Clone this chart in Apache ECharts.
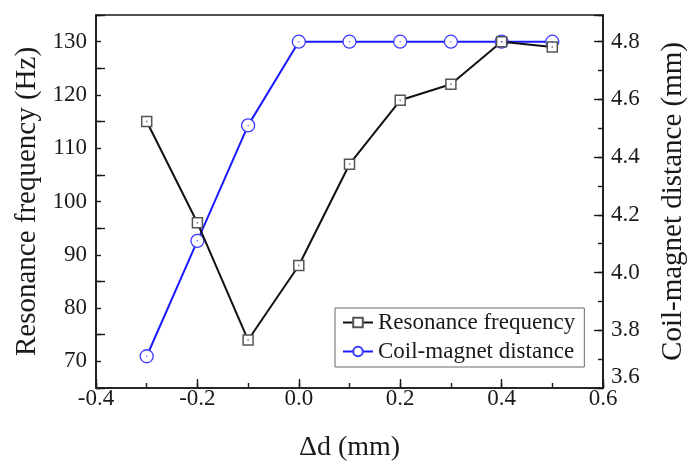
<!DOCTYPE html>
<html><head><meta charset="utf-8">
<script src="https://cdn.jsdelivr.net/npm/echarts@6/dist/echarts.min.js"></script>
<style>html,body{margin:0;padding:0;background:#fff}#c{width:696px;height:467px}</style>
</head><body><div id="c"></div>
<script>
var xs = [-0.3, -0.2, -0.1, 0.0, 0.1, 0.2, 0.3, 0.4, 0.5];
var freq = [115, 96, 74, 88, 107, 119, 122, 130, 129];
var dist = [3.71, 4.11, 4.51, 4.80, 4.80, 4.80, 4.80, 4.80, 4.80];
var seriesNames = ['Resonance frequency', 'Coil-magnet distance'];
var xTitle = '\u0394d (mm)';
var yLeftTitle = 'Resonance frequency (Hz)';
var yRightTitle = 'Coil-magnet distance (mm)';

var FONT = '"Liberation Serif","Times New Roman",serif';
var INK = '#1a1a1a';
function pairs(ys){ return xs.map(function(x,i){return [x, ys[i]];}); }
var lineStyleAxis = {show:true, onZero:false, lineStyle:{color:INK, width:1.6}};
var noLine = {show:false, onZero:false};

var chart = echarts.init(document.getElementById('c'));
chart.setOption({
  animation:false,
  backgroundColor:'#fff',
  grid:{left:96, right:93, top:15, bottom:79, show:true, borderColor:INK, borderWidth:1.6, backgroundColor:'transparent'},
  xAxis:[
    {type:'value', min:-0.4, max:0.6, interval:0.1, position:'bottom',
     axisLine:lineStyleAxis, splitLine:{show:false},
     axisTick:{inside:true, length:5, lineStyle:{color:INK, width:1.4}},
     axisLabel:{fontFamily:FONT, fontSize:23, color:INK, margin:-1,
       formatter:function(v){var k=Math.round(v*10); if(k%2!==0) return ''; return (k/10).toFixed(1);}},
     name:xTitle, nameLocation:'middle', nameGap:46,
     nameTextStyle:{fontFamily:FONT, fontSize:28, color:INK}},
    {type:'value', min:-0.4, max:0.6, interval:0.2, position:'bottom',
     axisLine:noLine, splitLine:{show:false}, axisLabel:{show:false},
     axisTick:{inside:true, length:9, lineStyle:{color:INK, width:1.4}}}
  ],
  yAxis:[
    {type:'value', min:65, max:135, interval:5, position:'left',
     axisLine:lineStyleAxis, splitLine:{show:false},
     axisTick:{inside:true, length:5, lineStyle:{color:INK, width:1.4}},
     axisLabel:{fontFamily:FONT, fontSize:23, color:INK, margin:9,
       formatter:function(v){return (Math.round(v)%10===0 && v>65 && v<135) ? String(Math.round(v)) : '';}},
     name:yLeftTitle, nameLocation:'middle', nameGap:54,
     nameTextStyle:{fontFamily:FONT, fontSize:29, color:INK}},
    {type:'value', min:3.6, max:4.8925, interval:0.1, position:'right',
     axisLine:lineStyleAxis, splitLine:{show:false},
     axisTick:{inside:true, length:5, lineStyle:{color:INK, width:1.4}},
     axisLabel:{fontFamily:FONT, fontSize:23, color:INK, margin:8,
       formatter:function(v){var k=Math.round(v*10); if(k%2!==0 || v>4.85) return ''; var s=(k/10).toFixed(1); return k===36 ? '{lo|'+s+'}' : s;},
       rich:{lo:{fontFamily:FONT, fontSize:23, color:INK, padding:[0,0,22,0]}}},
     name:yRightTitle, nameLocation:'middle', nameGap:56,
     nameTextStyle:{fontFamily:FONT, fontSize:29, color:INK}},
    {type:'value', min:65, max:135, interval:10, position:'left',
     axisLine:noLine, splitLine:{show:false}, axisLabel:{show:false},
     axisTick:{inside:true, length:9, lineStyle:{color:INK, width:1.4}}},
    {type:'value', min:3.6, max:4.8925, interval:0.2, position:'right',
     axisLine:noLine, splitLine:{show:false}, axisLabel:{show:false},
     axisTick:{inside:true, length:9, lineStyle:{color:INK, width:1.4}}}
  ],
  legend:{
    data:seriesNames, orient:'vertical', left:335, top:308,
    itemWidth:30, itemHeight:12, itemGap:6, padding:[3,9,4,7],
    borderColor:'#666', borderWidth:1, backgroundColor:'#fff',
    textStyle:{fontFamily:FONT, fontSize:23, color:INK}
  },
  series:[
    {name:seriesNames[0], type:'line', xAxisIndex:0, yAxisIndex:0, data:pairs(freq),
     symbol:'rect', symbolSize:10, showAllSymbol:true, z:3,
     lineStyle:{color:'#111', width:2},
     itemStyle:{color:'#fff', borderColor:'#555', borderWidth:1.5}},
    {name:seriesNames[1], type:'line', xAxisIndex:0, yAxisIndex:1, data:pairs(dist),
     symbol:'circle', symbolSize:13, showAllSymbol:true, z:2,
     lineStyle:{color:'#1a1aff', width:2},
     itemStyle:{color:'#fff', borderColor:'#3b3bff', borderWidth:1.3}},
    {type:'scatter', xAxisIndex:0, yAxisIndex:0, data:pairs(freq), symbol:'rect', symbolSize:1.5, silent:true, z:4,
     itemStyle:{color:'#555'}},
    {type:'scatter', xAxisIndex:0, yAxisIndex:1, data:pairs(dist), symbol:'circle', symbolSize:1.5, silent:true, z:4,
     itemStyle:{color:'#3b3bff'}}
  ]
});
</script></body></html>
